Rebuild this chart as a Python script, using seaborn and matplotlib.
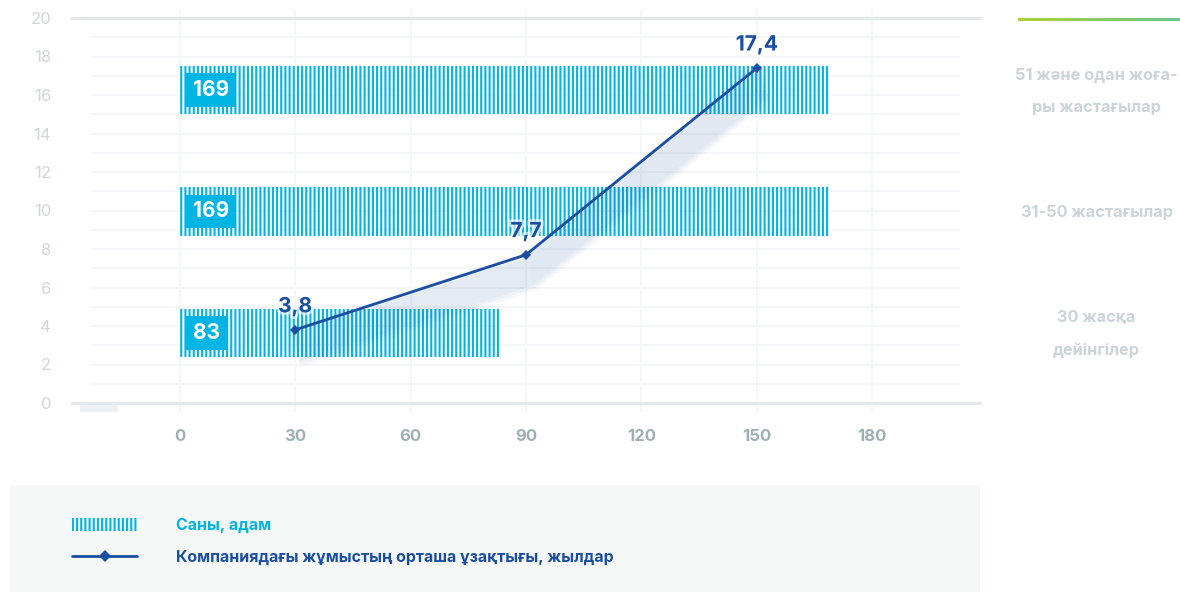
import seaborn as sns
import matplotlib.pyplot as plt
import matplotlib.patheffects as pe
import matplotlib.transforms as mtransforms
from matplotlib.patches import Patch, Rectangle
from matplotlib.lines import Line2D
from matplotlib.colors import LinearSegmentedColormap
import numpy as np
import pandas as pd

# data
age_groups = ["30 жасқа\nдейінгілер", "31-50 жастағылар", "51 және одан жоға-\nры жастағылар"]
headcount = [83, 169, 169]
tenure_x = [30, 90, 150]
tenure_years = [3.8, 7.7, 17.4]
x_ticks = [0, 30, 60, 90, 120, 150, 180]
y_ticks = list(range(0, 21, 2))
legend_labels = ["Саны, адам", "Компаниядағы жұмыстың орташа ұзақтығы, жылдар"]

CYAN = "#00b4e3"
BLUE = "#1a4ea3"
GRID = "#f1f4f5"
SPINE = "#e3e8eb"

sns.set_theme(style="white")
plt.rcParams["font.family"] = ["Inter", "DejaVu Sans"]
plt.rcParams["hatch.linewidth"] = 1.5

fig = plt.figure(figsize=(11.8, 5.92), dpi=100)
W, H = 1180, 592
ax = fig.add_axes([72 / W, 1 - 403 / H, 908 / W, 385 / H])
axb = ax.twinx()
axl = ax.twinx()

# background grid axis
ax.set_xlim(-28, 208)
ax.set_ylim(0, 20)
for v in range(1, 20):
    ax.axhline(v, xmin=0.022, xmax=0.978, color=GRID, lw=1.1, zorder=0)
for v in x_ticks:
    ax.axvline(v, ymin=-0.02, ymax=1.02, color="#f5f7f8", lw=1.5, zorder=0, clip_on=False)
for side in ["left", "right"]:
    ax.spines[side].set_visible(False)
for side in ["top", "bottom"]:
    ax.spines[side].set_color(SPINE)
    ax.spines[side].set_linewidth(2.2)
ax.set_xticks(x_ticks)
ax.set_yticks(y_ticks)
ax.tick_params(axis="y", length=0, pad=15, labelsize=12, labelcolor="#cfd7db")
ax.tick_params(axis="x", length=0, pad=19, labelsize=12, labelcolor="#9fb0b5")
for t in ax.get_xticklabels():
    t.set_fontweight("bold")

# bars
df = pd.DataFrame({"group": age_groups, "count": headcount})
sns.barplot(data=df, x="count", y="group", orient="h", ax=axb, width=0.4,
            color=CYAN, order=age_groups)
for p in axb.patches:
    p.set_facecolor("none")
    p.set_edgecolor(CYAN)
    p.set_hatch("||||")
    p.set_linewidth(0)
axb.set_ylim(-0.579, 2.595)
axb.set_xlim(-28, 208)
axb.set_xlabel("")
axb.set_ylabel("")
for s in axb.spines.values():
    s.set_visible(False)
axb.yaxis.tick_right()
axb.tick_params(axis="y", length=0, pad=84, labelsize=11.8, labelcolor="#cbd4d8")
shift_up = mtransforms.ScaledTranslation(0, 0.09, fig.dpi_scale_trans)
for t in axb.get_yticklabels():
    t.set_ha("center")
    t.set_fontweight("bold")
    t.set_linespacing(2.45)
    if "\n" in t.get_text():
        t.set_transform(t.get_transform() + shift_up)
for i, v in enumerate(headcount):
    axb.annotate(str(v), xy=(0, i), xytext=(9.5, 0), textcoords="offset points",
                 ha="left", va="center", fontsize=15, fontweight="bold", color="white",
                 bbox=dict(boxstyle="square,pad=0.33", fc=CYAN, ec="none"))

# line with a soft glow underneath
axl.set_ylim(0, 20)
glow = [pe.SimpleLineShadow(offset=(k * 0.25, -k), shadow_color=BLUE, alpha=0.04, linewidth=6)
        for k in range(1, 24, 2)]
axl.plot(tenure_x, tenure_years, color="none", lw=2, path_effects=glow)
sns.lineplot(x=tenure_x, y=tenure_years, ax=axl, color=BLUE, lw=2, marker="D",
             markersize=5, markeredgewidth=0)
axl.set_yticks([])
axl.set_ylabel("")
for s in axl.spines.values():
    s.set_visible(False)
for x, y in zip(tenure_x, tenure_years):
    axl.annotate(f"{y:.1f}".replace(".", ","), xy=(x, y), xytext=(0, 17),
                 textcoords="offset points", ha="center", va="center",
                 fontsize=15, fontweight="bold", color=BLUE,
                 path_effects=[pe.withStroke(linewidth=4, foreground="white", alpha=0.6)])

# small block under axis, green bar at top right
fig.patches.append(Rectangle((80 / W, 1 - 412 / H), 38 / W, 7 / H,
                             transform=fig.transFigure, fc="#eef1f3", ec="none"))
gax = fig.add_axes([1018 / W, 1 - 21 / H, 162 / W, 3 / H])
gax.imshow(np.linspace(0, 1, 200)[None, :], aspect="auto",
           cmap=LinearSegmentedColormap.from_list("g", ["#acd035", "#6cc48e"]))
gax.axis("off")

# legend panel
fig.patches.append(Rectangle((10 / W, 0), 970 / W, 107 / H,
                             transform=fig.transFigure, fc="#f6f8f8", ec="none", zorder=0))
handles = [Patch(facecolor="none", edgecolor=CYAN, hatch="||||", linewidth=0),
           Line2D([], [], color=BLUE, lw=2, marker="D", markersize=6, markeredgewidth=0)]
leg = fig.legend(handles, legend_labels, loc="upper left", bbox_to_anchor=(72 / W, 1 - 518 / H),
                 frameon=False, fontsize=11.5, handlelength=4.1, handletextpad=2.4,
                 labelspacing=1.05, borderpad=0, borderaxespad=0, handleheight=0.9)
for txt, c in zip(leg.get_texts(), [CYAN, BLUE]):
    txt.set_color(c)
    txt.set_fontweight("bold")

fig.savefig("out.png", dpi=100)
